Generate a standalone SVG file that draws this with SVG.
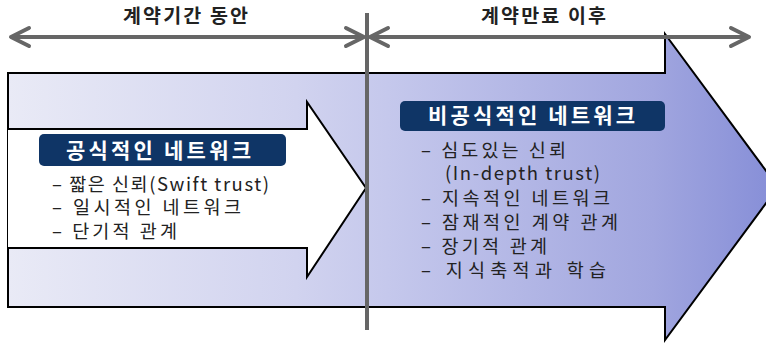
<svg xmlns="http://www.w3.org/2000/svg" width="766" height="343" viewBox="0 0 766 343">
  <style>
    .outline { stroke: #000; stroke-width: 2; stroke-linejoin: miter; }
    .timeline { stroke: #666; stroke-width: 4; fill: none; }
    .label { font-family: "Noto Sans CJK KR", "Noto Sans", sans-serif; font-weight: bold; fill: #fff; font-size: 21px; }
    .period { font-family: "Noto Sans CJK KR", "Noto Sans", sans-serif; font-weight: bold; fill: #222; font-size: 19.5px; }
    .item { font-family: "Noto Sans CJK KR", "Noto Sans", sans-serif; fill: #222; font-size: 18.5px; }
    .box { fill: #0f3566; }
  </style>
  <defs>
    <linearGradient id="grad" gradientUnits="userSpaceOnUse" x1="8" y1="0" x2="766" y2="0">
      <stop offset="0" stop-color="#e9eaf6"/>
      <stop offset="0.38" stop-color="#d1d3ef"/>
      <stop offset="0.5" stop-color="#c5c8ec"/>
      <stop offset="0.85" stop-color="#a1a6df"/>
      <stop offset="1" stop-color="#8890d8"/>
    </linearGradient>
    <marker id="chev" viewBox="-22 -12 26 24" refX="0" refY="0" markerWidth="26" markerHeight="24" markerUnits="userSpaceOnUse" orient="auto-start-reverse">
      <path d="M-18,-9 L0,0 L-18,9" fill="none" stroke="#666" stroke-width="4" stroke-linecap="round" stroke-linejoin="round"/>
    </marker>
  </defs>

  <g id="after-arrow">
    <path class="outline" fill="url(#grad)" d="M8,73 H665 V34 L778,187 L665,340 V307 H8 Z"/>
  </g>

  <g id="during-arrow">
    <path class="outline" fill="#fff" d="M8,129 H307 V102 L366,188 L307,277 V248 H8"/>
  </g>

  <g id="formal-network">
    <rect class="box" x="39" y="134" width="247" height="32" rx="5"/>
    <text class="label" x="66" y="158" textLength="185" lengthAdjust="spacing">공식적인 네트워크</text>
    <text class="item" x="52" y="191" textLength="217" lengthAdjust="spacing">– 짧은 신뢰(Swift trust)</text>
    <text class="item" x="52" y="214" textLength="189" lengthAdjust="spacing">– 일시적인 네트워크</text>
    <text class="item" x="52" y="238" textLength="125" lengthAdjust="spacing">– 단기적 관계</text>
  </g>

  <g id="informal-network">
    <rect class="box" x="400" y="101" width="265" height="30" rx="5"/>
    <text class="label" x="428" y="123" textLength="207" lengthAdjust="spacing">비공식적인 네트워크</text>
    <text class="item" x="421" y="157" textLength="145" lengthAdjust="spacing">– 심도있는 신뢰</text>
    <text class="item" x="445" y="180" textLength="155" lengthAdjust="spacing">(In-depth trust)</text>
    <text class="item" x="421" y="205" textLength="189" lengthAdjust="spacing">– 지속적인 네트워크</text>
    <text class="item" x="421" y="229" textLength="197" lengthAdjust="spacing">– 잠재적인 계약 관계</text>
    <text class="item" x="421" y="253" textLength="126" lengthAdjust="spacing">– 장기적 관계</text>
    <text class="item" x="421" y="277" textLength="185" lengthAdjust="spacing">– 지식축적과 학습</text>
  </g>

  <g id="period-labels">
    <text class="period" x="123" y="23" textLength="125" lengthAdjust="spacing">계약기간 동안</text>
    <text class="period" x="481" y="23" textLength="125" lengthAdjust="spacing">계약만료 이후</text>
  </g>

  <g id="connectors">
    <line class="timeline" x1="11" y1="37" x2="364" y2="37" marker-start="url(#chev)" marker-end="url(#chev)"/>
    <line class="timeline" x1="370" y1="37" x2="749" y2="37" marker-start="url(#chev)" marker-end="url(#chev)"/>
    <line class="timeline" x1="367" y1="13" x2="367" y2="330" stroke-width="3.5"/>
  </g>
</svg>
